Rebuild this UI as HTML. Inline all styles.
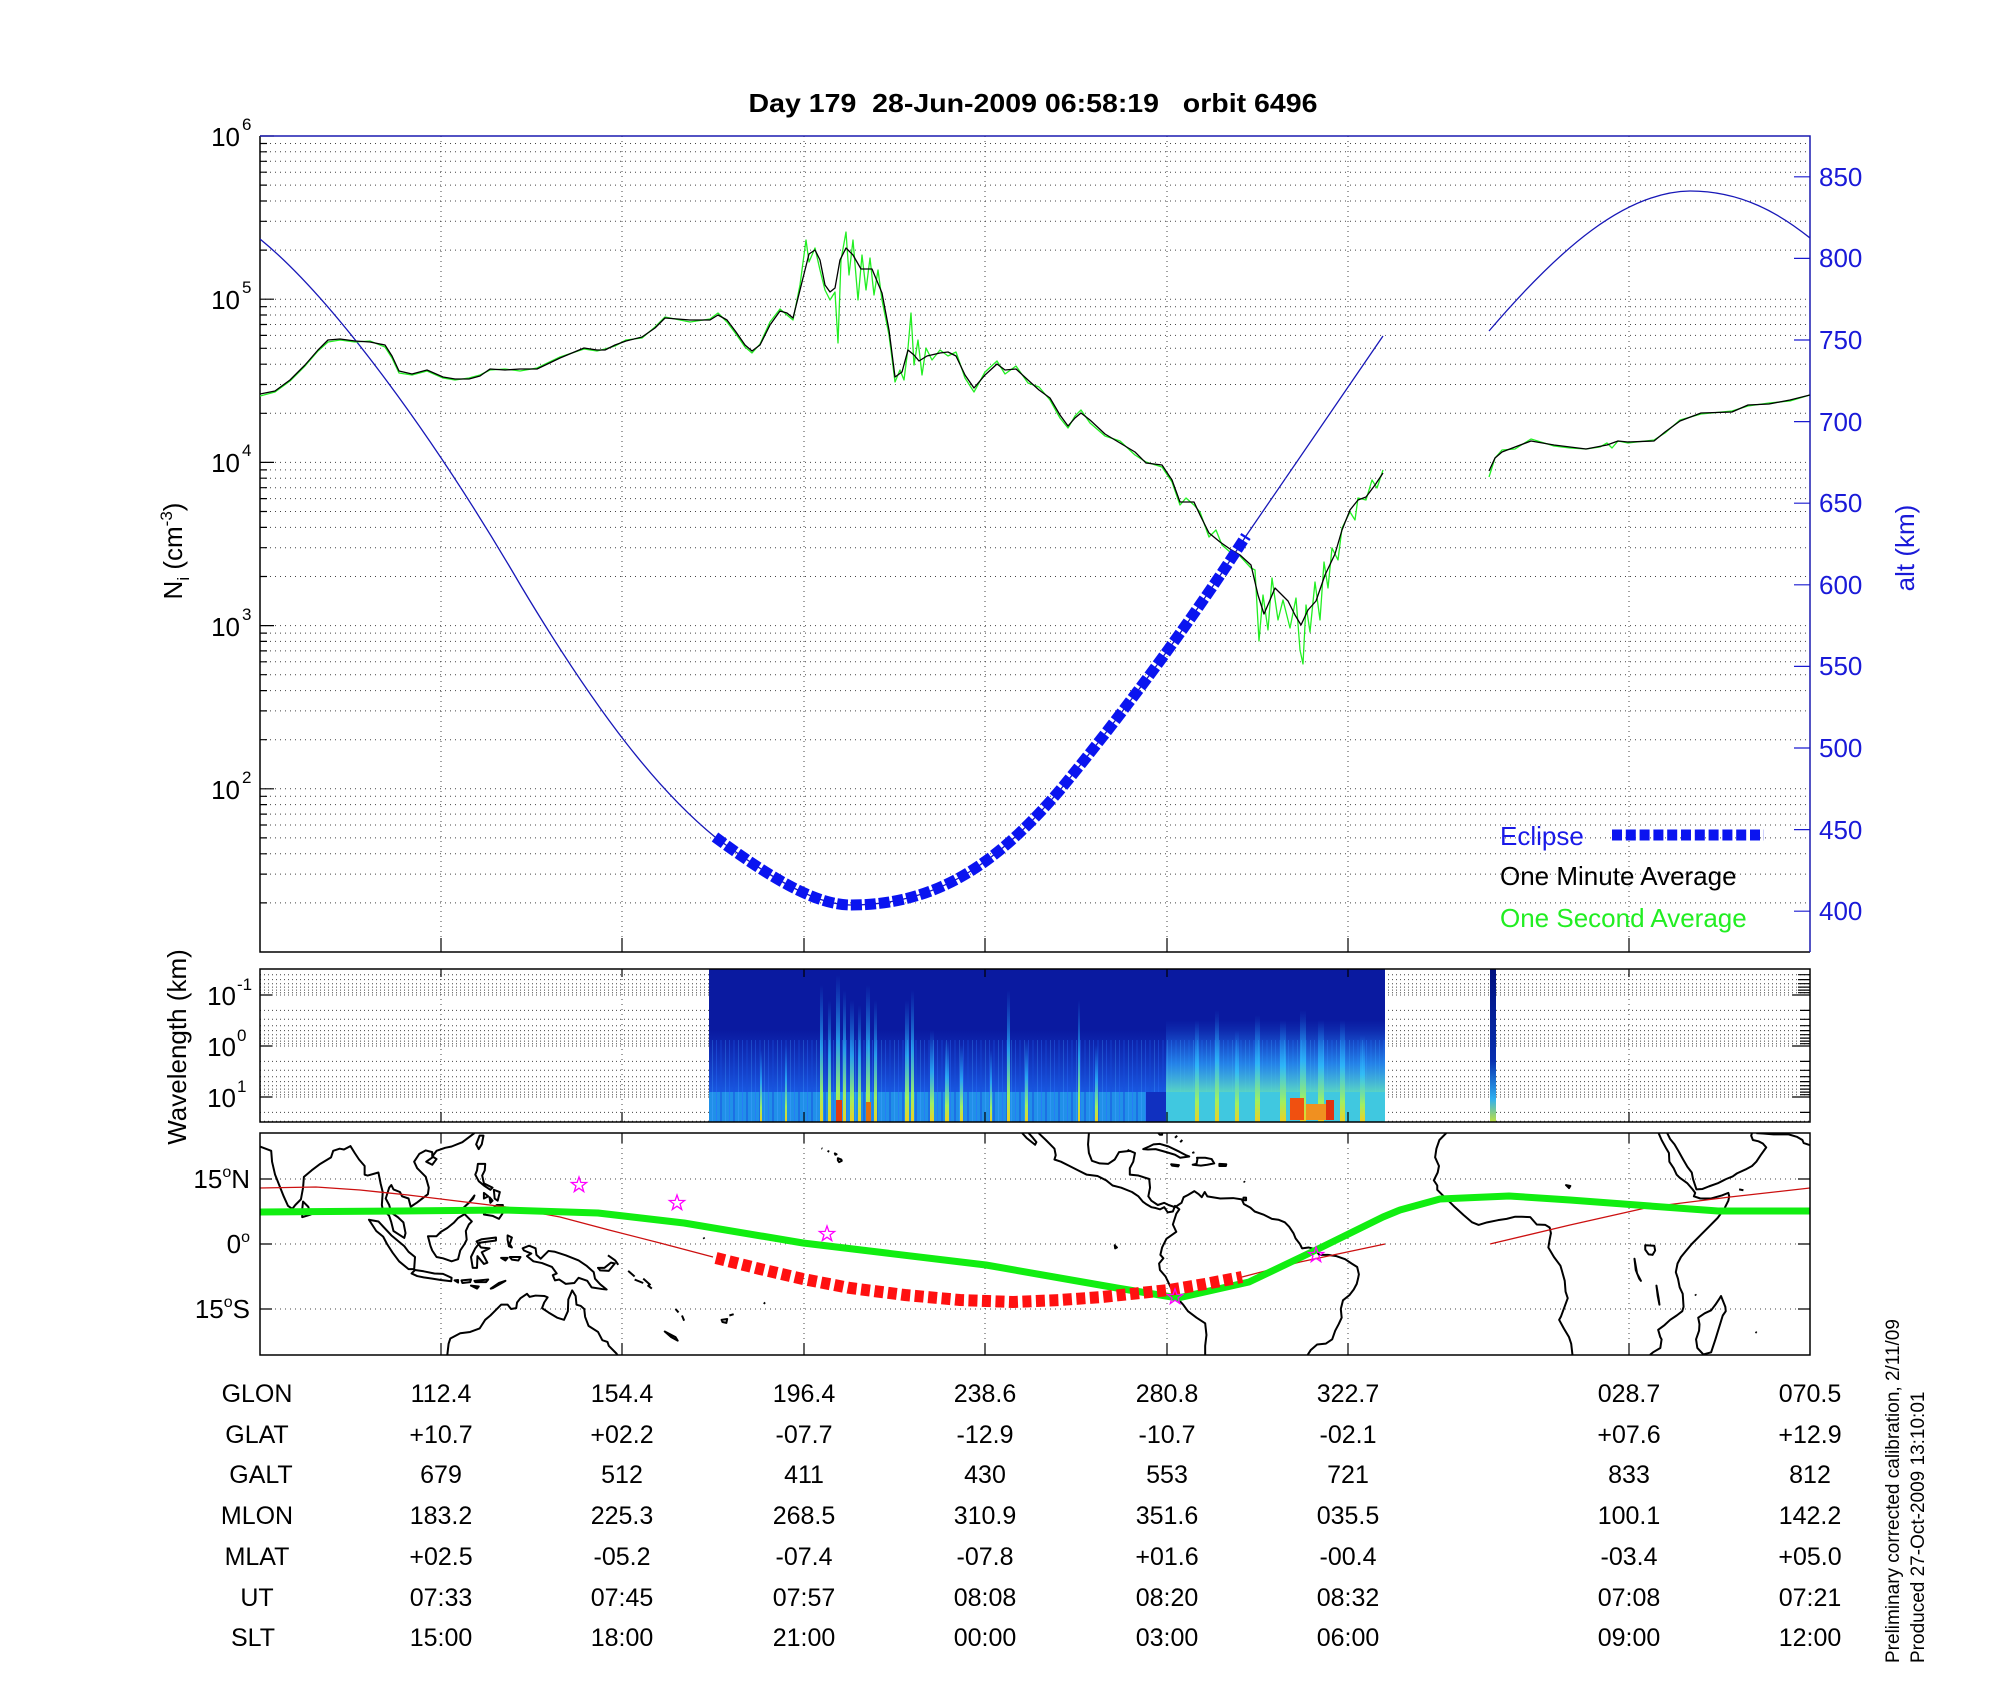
<!DOCTYPE html>
<html><head><meta charset="utf-8"><style>
html,body{margin:0;padding:0;background:#fff;}
svg{display:block;font-family:"Liberation Sans",Arial,sans-serif;}
</style></head><body>
<svg width="2000" height="1700" viewBox="0 0 2000 1700" xmlns="http://www.w3.org/2000/svg">
<defs>
<clipPath id="cTop"><rect x="260" y="136" width="1550" height="816"/></clipPath>
<clipPath id="cSp"><rect x="260" y="969" width="1550" height="153"/></clipPath>
<clipPath id="cMap"><rect x="260" y="1133" width="1550" height="222"/></clipPath>
<linearGradient id="gLow" x1="0" y1="0" x2="0" y2="1">
<stop offset="0" stop-color="#1a50e0" stop-opacity="0"/><stop offset="1" stop-color="#1a60e8" stop-opacity="0.9"/></linearGradient>
<linearGradient id="gSt" x1="0" y1="0" x2="0" y2="1">
<stop offset="0" stop-color="#20a0ff" stop-opacity="0"/><stop offset="0.45" stop-color="#30c8ff" stop-opacity="0.7"/><stop offset="0.8" stop-color="#a0f060"/><stop offset="1" stop-color="#f0d020"/></linearGradient>
<linearGradient id="gBr" x1="0" y1="0" x2="0" y2="1">
<stop offset="0" stop-color="#2080ff" stop-opacity="0"/><stop offset="0.6" stop-color="#30b0ff" stop-opacity="0.6"/><stop offset="1" stop-color="#60e0c0" stop-opacity="0.9"/></linearGradient>
<linearGradient id="gBar" x1="0" y1="0" x2="0" y2="1">
<stop offset="0" stop-color="#001080"/><stop offset="0.6" stop-color="#0830b0"/><stop offset="0.85" stop-color="#30b0f0"/><stop offset="1" stop-color="#c0e040"/></linearGradient>
<pattern id="pStreak" x="0" y="0" width="13" height="153" patternUnits="userSpaceOnUse">
<rect x="1" y="0" width="1" height="153" fill="#2a70ff" opacity="0.6"/><rect x="5" y="0" width="2" height="153" fill="#1850e0" opacity="0.5"/><rect x="10" y="0" width="1" height="153" fill="#40a0ff" opacity="0.5"/>
</pattern>
<polygon id="star" points="0,-8 1.88,-2.59 7.61,-2.47 3.04,0.99 4.7,6.47 0,3.2 -4.7,6.47 -3.04,0.99 -7.61,-2.47 -1.88,-2.59" fill="none" stroke="#ff00ff" stroke-width="1.3"/>
</defs>

<text x="1033" y="112" font-size="26" font-weight="bold" text-anchor="middle" textLength="569" lengthAdjust="spacingAndGlyphs" xml:space="preserve">Day 179  28-Jun-2009 06:58:19   orbit 6496</text>

<g stroke="#444" stroke-width="1" stroke-dasharray="1 4" fill="none">
<path d="M260,902.9H1810M260,874.1H1810M260,853.8H1810M260,837.9H1810M260,825H1810M260,814.1H1810M260,804.6H1810M260,796.3H1810M260,788.8H1810
M260,739.7H1810M260,710.9H1810M260,690.6H1810M260,674.7H1810M260,661.8H1810M260,650.9H1810M260,641.4H1810M260,633.1H1810M260,625.6H1810
M260,576.5H1810M260,547.7H1810M260,527.4H1810M260,511.5H1810M260,498.6H1810M260,487.7H1810M260,478.2H1810M260,469.9H1810M260,462.4H1810
M260,413.3H1810M260,384.5H1810M260,364.2H1810M260,348.3H1810M260,335.4H1810M260,324.5H1810M260,315H1810M260,306.7H1810M260,299.2H1810
M260,250.1H1810M260,221.3H1810M260,201H1810M260,185.1H1810M260,172.2H1810M260,161.3H1810M260,151.8H1810M260,143.5H1810"/>
<path d="M441,136V952M622,136V952M804,136V952M985,136V952M1167,136V952M1348,136V952M1629,136V952"/>
</g>
<g stroke="#000" stroke-width="1.2">
<path d="M260,788.8h14M260,625.6h14M260,462.4h14M260,299.2h14M260,136h14
M260,902.9h7M260,874.1h7M260,853.8h7M260,837.9h7M260,825h7M260,814.1h7M260,804.6h7M260,796.3h7
M260,739.7h7M260,710.9h7M260,690.6h7M260,674.7h7M260,661.8h7M260,650.9h7M260,641.4h7M260,633.1h7
M260,576.5h7M260,547.7h7M260,527.4h7M260,511.5h7M260,498.6h7M260,487.7h7M260,478.2h7M260,469.9h7
M260,413.3h7M260,384.5h7M260,364.2h7M260,348.3h7M260,335.4h7M260,324.5h7M260,315h7M260,306.7h7
M260,250.1h7M260,221.3h7M260,201h7M260,185.1h7M260,172.2h7M260,161.3h7M260,151.8h7M260,143.5h7
M441,952v-14M622,952v-14M804,952v-14M985,952v-14M1167,952v-14M1348,952v-14M1629,952v-14"/>
</g>
<g stroke="#1a1ad0" stroke-width="1.2">
<path d="M1810,911.2h-16M1810,829.6h-16M1810,748h-16M1810,666.4h-16M1810,584.8h-16M1810,503.2h-16M1810,421.6h-16M1810,340h-16M1810,258.4h-16M1810,176.8h-16"/>
</g>
<path d="M260,136V952H1810" stroke="#000" stroke-width="1.5" fill="none"/>
<path d="M260,136H1810V952" stroke="#1a1ab0" stroke-width="1.5" fill="none"/>

<g font-size="26" fill="#000" text-anchor="end">
<text x="240" y="146">10</text><text x="240" y="309">10</text><text x="240" y="472">10</text><text x="240" y="636">10</text><text x="240" y="799">10</text>
</g>
<g font-size="17" fill="#000">
<text x="242" y="130">6</text><text x="242" y="293">5</text><text x="242" y="456">4</text><text x="242" y="620">3</text><text x="242" y="783">2</text>
</g>
<text transform="translate(182,551) rotate(-90)" font-size="26" text-anchor="middle">N<tspan font-size="17" dy="7">i</tspan><tspan dy="-7"> (cm</tspan><tspan font-size="17" dy="-10">-3</tspan><tspan dy="10">)</tspan></text>
<g font-size="26" fill="#1a1ad8">
<text x="1819" y="920">400</text><text x="1819" y="839">450</text><text x="1819" y="757">500</text><text x="1819" y="675">550</text><text x="1819" y="594">600</text><text x="1819" y="512">650</text><text x="1819" y="431">700</text><text x="1819" y="349">750</text><text x="1819" y="267">800</text><text x="1819" y="186">850</text>
</g>
<text transform="translate(1914,548) rotate(-90)" font-size="26" fill="#1a1ad8" text-anchor="middle">alt (km)</text>

<g clip-path="url(#cTop)" fill="none" stroke-linejoin="round">
<path stroke="#1818b8" stroke-width="1.3" d="M260,239 C330,296 430,430 521,586 C600,718 660,792 715,837 C780,885 820,905 851,905 C940,905 1000,860 1060,790 C1130,705 1200,608 1246,536 L1383,336"/>
<path stroke="#1818b8" stroke-width="1.3" d="M1489,331 C1560,248 1625,192 1690,191 C1742,191 1780,214 1810,238"/>
<polyline stroke="#22ee22" stroke-width="1.3" points="260,396 275,392 290,381 305,366 318,351 328,342 340,340 355,342 370,341 385,347 392,358 399,373 412,375 427,371 443,378 455,380 469,378 480,375 490,370 505,369 520,371 537,368 560,357 584,349 597,351 605,349 615,346 626,340 642,338 655,327 665,317 690,322 710,319 718,313 727,322 736,334 745,347 752,353 760,344 770,322 780,309 787,315 793,320 800,285 806,240 809,262 815,248 820,270 825,290 830,300 835,292 838,343 841,260 846,232 849,275 853,240 858,300 862,255 866,290 870,258 874,295 878,270 882,300 889,335 895,382 900,370 904,380 908,348 911,313 914,365 918,340 922,375 926,348 932,360 940,350 948,356 956,352 965,378 974,392 985,372 997,361 1005,374 1016,366 1028,383 1039,387 1050,400 1060,418 1068,428 1075,416 1081,410 1090,423 1105,436 1120,441 1135,455 1146,462 1162,467 1172,482 1180,505 1186,498 1194,505 1200,512 1209,537 1216,530 1222,545 1230,552 1240,556 1251,568 1255,570 1259,641 1263,595 1268,630 1272,578 1278,620 1283,600 1290,628 1296,598 1300,650 1303,664 1306,605 1310,632 1315,582 1320,620 1324,562 1328,588 1332,548 1338,560 1342,528 1350,512 1355,520 1358,498 1366,500 1372,480 1377,488 1383,470"/>
<polyline stroke="#22ee22" stroke-width="1.3" points="1489,477 1495,458 1502,450 1515,449 1531,439 1554,446 1570,448 1586,449 1600,447 1607,443 1612,448 1618,441 1628,443 1654,440 1665,433 1680,420 1701,414 1732,411 1748,406 1769,403 1790,401 1810,395"/>
<polyline stroke="#000" stroke-width="1.3" points="260,394 275,391 290,380 305,365 318,350 328,340 340,339 355,341 370,342 385,345 392,356 399,371 412,374 427,370 443,377 455,379 469,379 480,376 490,369 505,370 520,369 537,369 560,358 584,348 597,350 605,350 615,345 626,341 642,337 655,328 665,318 690,320 710,320 718,315 727,320 736,332 745,345 752,351 760,345 770,325 780,311 787,313 793,318 800,290 809,254 815,250 820,260 825,285 830,292 835,288 840,260 846,248 853,255 861,269 872,269 882,293 889,330 895,377 902,372 908,350 914,355 919,361 927,356 940,353 948,352 956,356 965,375 974,388 985,375 997,364 1005,370 1016,369 1028,380 1039,390 1050,398 1060,415 1068,426 1075,418 1081,413 1090,420 1105,434 1120,443 1135,452 1146,463 1162,465 1172,480 1180,502 1194,502 1200,515 1209,533 1220,542 1230,549 1240,555 1251,565 1258,595 1264,614 1270,600 1275,588 1282,595 1288,601 1295,615 1301,625 1308,610 1316,601 1325,575 1335,554 1342,530 1350,510 1358,500 1366,497 1375,485 1383,473"/>
<polyline stroke="#000" stroke-width="1.3" points="1489,471 1495,458 1502,452 1515,447 1531,441 1554,445 1586,449 1607,445 1618,441 1628,442 1654,441 1665,432 1680,421 1701,413 1732,412 1748,405 1769,404 1790,400 1810,395"/>
<path stroke="#0a14f0" stroke-width="11" stroke-dasharray="11 3" d="M715,837 C780,885 820,905 851,905 C940,905 1000,860 1060,790 C1130,705 1200,608 1246,536"/>
</g>
<text x="1500" y="845" font-size="26" fill="#1a1ae8">Eclipse</text>
<path d="M1612,835H1764" stroke="#0a14f0" stroke-width="11" stroke-dasharray="10 3.8"/>
<text x="1500" y="885" font-size="26" fill="#000">One Minute Average</text>
<text x="1500" y="927" font-size="26" fill="#22ee22">One Second Average</text>

<g stroke="#444" stroke-width="1" stroke-dasharray="1 3" fill="none">
<path d="M260,974.7H1810M260,979.6H1810M260,983.7H1810M260,987.1H1810M260,990.1H1810M260,992.7H1810M260,995H1810
M260,1010.4H1810M260,1019.3H1810M260,1025.7H1810M260,1030.6H1810M260,1034.7H1810M260,1038.1H1810M260,1041.1H1810M260,1043.7H1810M260,1046H1810
M260,1061.4H1810M260,1070.3H1810M260,1076.7H1810M260,1081.6H1810M260,1085.7H1810M260,1089.1H1810M260,1092.1H1810M260,1094.7H1810M260,1097H1810
M260,1112.4H1810M260,1121.3H1810"/>
<path d="M441,969V1122M622,969V1122M804,969V1122M985,969V1122M1167,969V1122M1348,969V1122M1629,969V1122" stroke-dasharray="1 4"/>
</g>
<g clip-path="url(#cSp)">
<rect x="709" y="969" width="676" height="153" fill="#0a1aa0"/>
<rect x="709" y="1030" width="676" height="62" fill="url(#gLow)"/>
<rect x="709" y="1040" width="676" height="82" fill="url(#pStreak)" opacity="0.6"/>
<rect x="709" y="1092" width="437" height="30" fill="#2090e8"/>
<rect x="709" y="1092" width="437" height="30" fill="url(#pStreak)"/>
<rect x="1146" y="1092" width="20" height="30" fill="#1030c0"/>
<rect x="1166" y="1092" width="219" height="30" fill="#40c8e0"/>
<rect x="1166" y="1020" width="219" height="72" fill="url(#gBr)"/>
<g fill="url(#gSt)">
<rect x="820" y="985" width="3" height="137"/><rect x="828" y="1000" width="3" height="122"/><rect x="836" y="975" width="4" height="147"/>
<rect x="843" y="990" width="3" height="132"/><rect x="850" y="1000" width="4" height="122"/><rect x="858" y="1005" width="3" height="117"/>
<rect x="866" y="985" width="4" height="137"/><rect x="874" y="1000" width="3" height="122"/><rect x="905" y="1000" width="4" height="122"/>
<rect x="911" y="990" width="3" height="132"/><rect x="930" y="1030" width="4" height="92"/><rect x="945" y="1040" width="4" height="82"/>
<rect x="960" y="1045" width="3" height="77"/><rect x="1007" y="990" width="3" height="132"/><rect x="1025" y="1040" width="3" height="82"/>
<rect x="1078" y="1000" width="2" height="122"/><rect x="1095" y="1045" width="3" height="77"/>
<rect x="760" y="1050" width="2" height="72"/><rect x="785" y="1045" width="2" height="77"/><rect x="990" y="1050" width="2" height="72"/>
<rect x="1195" y="1020" width="4" height="102"/><rect x="1215" y="1010" width="4" height="112"/><rect x="1235" y="1030" width="4" height="92"/>
<rect x="1255" y="1015" width="5" height="107"/><rect x="1280" y="1020" width="6" height="102"/><rect x="1300" y="1010" width="6" height="112"/>
<rect x="1318" y="1020" width="6" height="102"/><rect x="1340" y="1020" width="5" height="102"/><rect x="1360" y="1035" width="5" height="87"/>
</g>
<rect x="836" y="1100" width="6" height="22" fill="#e03a10"/><rect x="866" y="1102" width="5" height="20" fill="#e07010"/>
<rect x="1290" y="1098" width="14" height="22" fill="#f05010"/><rect x="1306" y="1104" width="20" height="16" fill="#f09020"/><rect x="1326" y="1100" width="8" height="20" fill="#e03010"/>
<rect x="1490" y="969" width="6" height="153" fill="url(#gBar)"/>
</g>
<g stroke="#000" stroke-width="1.2">
<path d="M260,995h12M260,1046h12M260,1097h12M441,1122v-10M622,1122v-10M804,1122v-10M985,1122v-10M1167,1122v-10M1348,1122v-10M1629,1122v-10M441,969v8M622,969v8M804,969v8M985,969v8M1167,969v8M1348,969v8M1629,969v8
M1810,974.7h-12M1810,979.6h-12M1810,983.7h-12M1810,987.1h-12M1810,990.1h-12M1810,992.7h-12M1810,995h-18M1810,1010.4h-10M1810,1019.3h-10M1810,1025.7h-10M1810,1030.6h-10M1810,1034.7h-10M1810,1038.1h-10M1810,1041.1h-10M1810,1043.7h-10M1810,1046h-18M1810,1061.4h-10M1810,1070.3h-10M1810,1076.7h-10M1810,1081.6h-10M1810,1085.7h-10M1810,1089.1h-10M1810,1092.1h-10M1810,1094.7h-10M1810,1097h-18M1810,1112.4h-10"/>
</g>
<rect x="260" y="969" width="1550" height="153" fill="none" stroke="#000" stroke-width="1.5"/>
<g font-size="26" text-anchor="end"><text x="236" y="1005">10</text><text x="236" y="1056">10</text><text x="236" y="1107">10</text></g>
<g font-size="17"><text x="237" y="990">-1</text><text x="237" y="1041">0</text><text x="237" y="1092">1</text></g>
<text transform="translate(186,1047) rotate(-90)" font-size="26" text-anchor="middle">Wavelength (km)</text>

<g stroke="#444" stroke-width="1" stroke-dasharray="1 4" fill="none">
<path d="M260,1179H1810M260,1244H1810M260,1309H1810M441,1133V1355M622,1133V1355M804,1133V1355M985,1133V1355M1167,1133V1355M1348,1133V1355M1629,1133V1355"/>
</g>
<g clip-path="url(#cMap)">
<g transform="matrix(4.306 0 0 -4.333 -41.42 1244)" fill="none" stroke="#000" stroke-width="2" stroke-linejoin="round">
<path vector-effect="non-scaling-stroke" d="M70,22.5 L72.6,21.5 L72.8,19 L73.5,16 L74.5,13.5 L75.5,11 L76.5,8.8 L77.5,8.1 L78.2,9 L79.5,10.3 L80,13 L80.2,15.5 L82,17 L84,18.5 L86.5,20 L87,21.5 L88.5,22 L89.5,21.8 L91,22.6 L92,21 L93,19.5 L94.3,18 L94.3,16 L95,15.8 L97.5,16.5 L98,14 L98.5,12 L98.3,9 L98.5,8 L100,6.5 L100.5,5 L101,3 L103.5,1.4 L103.8,2.5 L103.3,5 L102,6.2 L100.5,7.2 L100,9 L99.2,10.5 L100,13 L100.5,13.6 L101,12.6 L102.5,12 L103,11 L104.5,10.5 L105,8.6 L106.5,9.6 L109,11.5 L109.2,13 L108.5,15.5 L106.5,17.5 L105.8,19 L107,20.8 L108.5,21.6 L110,21.2 L110,20.2 L111,21.5 L113,22.2 L114.5,22.5 L117,23.5 L119,25 L119.8,25.6"/>
<path vector-effect="non-scaling-stroke" d="M108.6,19 L110,18.3 L111,19.6 L110.2,20.1 Z M79.8,6.2 L81.8,6.8 L81.2,8.6 L80,9.8 L79.8,8 Z"/>
<path vector-effect="non-scaling-stroke" d="M95.3,5.6 L97.5,5.2 L100.5,2 L103.5,-0.5 L104.5,-1.8 L106,-3 L105.8,-5.8 L104.5,-5.8 L102.3,-4 L100.8,-2 L99.5,0 L98.6,1.7 L97,3 Z"/>
<path vector-effect="non-scaling-stroke" d="M105.2,-6.8 L106,-6 L108,-6.3 L110.5,-6.8 L112.5,-6.9 L114.5,-7.8 L114.4,-8.6 L112,-8.3 L110,-8 L108,-7.7 L106.5,-7.4 Z M115.2,-8.4 L116,-8.3 L116,-8.9 Z M116.8,-8.4 L119,-8.2 L118.8,-8.8 L117,-9 Z M119.8,-8.5 L123,-8.2 L122.5,-8.8 L120,-8.8 Z M124,-10.2 L127,-8.5 L125.5,-9 L123.6,-10.3 Z M119,-9.6 L120.8,-9.8 L120.4,-10.3 Z"/>
<path vector-effect="non-scaling-stroke" d="M109,1.8 L109.6,-0.5 L110,-1.5 L111,-3 L112.5,-3.3 L114.5,-4 L116,-3.5 L116.5,-1.5 L117.5,0 L118,1 L117.8,3 L118.5,4.5 L119.2,5.2 L117.5,6.9 L116,6 L115,4.9 L113.5,3.7 L112,2.8 L111,1.8 Z"/>
<path vector-effect="non-scaling-stroke" d="M119.4,-5.5 L120.4,-5.5 L120.5,-2.8 L122,-4.6 L122.8,-4.3 L121.5,-1.9 L123.3,-1 L121.3,-0.8 L120.3,0.6 L121.5,1.1 L124.8,1.5 L124.8,0.8 L121,0.3 L120,-1 L119,-3 Z M127.5,2 L128.5,1.5 L128,0 L128.5,-0.8 L127.8,-0.5 L127.5,1 Z M126,-3.2 L127.5,-3.2 L127,-3.8 Z M128,-3 L130.5,-3 L130,-3.8 L128.5,-3.6 Z"/>
<path vector-effect="non-scaling-stroke" d="M120.6,18.5 L122.3,18.5 L122.2,17 L121.6,15.8 L122,14 L124,13 L123.5,12.5 L122,13.5 L120.8,14.5 L120,16 L120.4,17 Z M122,7 L123.5,7.8 L125,9 L126.4,9 L126.3,7 L125.5,5.8 L124,6.5 L122,6.8 Z M124.3,12.5 L125.7,12 L125.2,10 L124.5,10.5 Z M122,11.8 L123,11 L122,10.5 Z M117.2,8.3 L119.5,10.5 L119.8,11.2 L118.5,9.5 Z M123.3,10.8 L124,10 L123.5,9.5 Z M120.2,23 L121,25 L121.9,25 L121.5,23 L120.8,21.9 Z"/>
<path vector-effect="non-scaling-stroke" d="M131,-1 L132.5,-0.4 L134,-1 L134.2,-2.5 L135.2,-3.4 L137,-1.6 L138.5,-1.8 L141,-2.6 L144,-3.8 L145.8,-5 L147.5,-6.5 L147.8,-8 L149,-9.3 L150.5,-10.5 L149.5,-10.4 L147,-10 L146,-8.5 L144,-7.8 L143,-9 L141,-9.2 L139.5,-8.2 L138.5,-8.4 L138,-7.2 L138.9,-6.8 L137.8,-5.3 L135.5,-4.4 L133.5,-4 L132,-2.8 L133,-2.2 L131.3,-1.5 Z M148.5,-5.5 L150,-5.5 L151.5,-4.3 L152.4,-4.5 L151,-6.2 L149,-6.1 Z M150.8,-2.6 L152.5,-3.8 L153.2,-4.8 M155.5,-6.2 L157,-7.5 M159,-8 L160.7,-9.5 M160,-9.5 L161,-10.3 M157,-8.2 L159,-9 M166.5,-15 L167.2,-15.8 M168,-16.5 L168.5,-17.7 M164,-20.2 L166.5,-21.5 L167,-22.3 L165.5,-21.5 Z M177.2,-17.5 L178.5,-17.3 L178.3,-18.2 L177.4,-18 Z M179,-16.5 L180,-16.2"/>
<path vector-effect="non-scaling-stroke" d="M113.5,-25.6 L113.8,-23 L114.2,-21.8 L116.5,-20.6 L118.8,-20.3 L121,-19.5 L122.3,-17.5 L123.5,-16.5 L124.5,-15.5 L126,-14 L127.5,-14 L128.3,-15 L129.5,-14.8 L129.7,-13.5 L130.5,-12.5 L132,-11.5 L132.6,-12.2 L134,-11.9 L136,-12 L136.8,-12.3 L136,-13.5 L135.5,-14.8 L137,-15.8 L139,-17 L140.6,-17.5 L141.5,-15.5 L141.6,-12.8 L142.5,-10.7 L143.3,-12 L143.5,-14 L144.5,-14.3 L145.3,-15 L145.5,-16.8 L146.3,-18.9 L148.5,-20.3 L149.5,-22.2 L150.7,-22.6 L151,-23.5 L152.8,-25.3 L153,-25.6"/>
<path vector-effect="non-scaling-stroke" d="M204.2,19.8 L205,19.5 L205.1,19.2 L204.5,18.9 L204.2,19.3 Z M203.5,20.9 L203.9,20.7 L203.6,20.6 Z M201.8,21.5 L202.2,21.3 M200.4,22.1 L200.6,22.0 M268.5,-0.3 L269,-0.8 L268.6,-1 Z M187,-13.5 L187.3,-13.8 M173,1.5 L173.2,1.2"/>
<path vector-effect="non-scaling-stroke" d="M247,25.6 L248,24.5 L250,22.9 L250.3,23.5 L249.5,24.5 L248.5,25.6 M250.8,25.6 L252.5,24 L254.5,22 L254.8,20.5 L254.5,19.5 L256,19 L258,18 L260,17 L262,16 L264.5,15.7 L266.5,14.7 L268,13.5 L270,13 L272.5,12 L274,11 L275,9.8 L275.8,9.2 L277,8.5 L278,8.3 L279,8 L280,8.5 L280.8,7.3 L282,7.5 L282.5,8.8 L283.5,8 L282.8,7 L282,4.5 L282.8,2.8 L280.5,1.2 L279.5,-0.8 L279.1,-2.5 L279.8,-3.3 L278.8,-4.5 L279,-6 L280.3,-7.5 L281.5,-10 L283,-12.5 L284.4,-14 L285.5,-15.5 L287.5,-17 L289.5,-18.3 L289.8,-21 L289.5,-23.5 L289.5,-25.6"/>
<path vector-effect="non-scaling-stroke" d="M262.5,25.6 L262.3,23 L262.5,21 L263.2,19.2 L265,18.6 L267,18.5 L268.5,19.5 L269.5,21.2 L272,21.5 L273.2,21 L272.8,19 L272,17.5 L272,16 L274,15.8 L276.5,15 L276.7,13 L276.3,11 L277,10 L278.5,9 L280,9.5 L281,9 L282.5,8.5 L284,9.5 L284.5,10.8 L285.5,11.3 L287,12.2 L288,11.5 L288.7,10.8 L289.4,12 L290,11 L293,10.5 L296,10.6 L298,10.3 L298.5,9.2 L300,8.4 L301,7.5 L303,6.8 L305,5.8 L306.5,5.6 L308,5 L309,4 L310,2.5 L310.5,1.3 L311.5,0 L312,-1 L313.5,-0.8 L315,-1.2 L316,-2.5 L318,-2.5 L320,-2.8 L322,-3.5 L323.5,-4.5 L324.8,-5.3 L325.2,-7 L325,-8 L324.7,-9.2 L324,-10.5 L323,-11.8 L321.5,-13 L321,-15 L321.2,-17 L320.5,-18.5 L319.7,-20 L319,-22 L317.5,-23 L315.5,-23.2 L314,-24.5 L313.3,-25.6"/>
<path vector-effect="non-scaling-stroke" d="M279.5,25.6 L279.5,25.2 L279,25.2 L278.6,25.6 M275.1,21.9 L276.5,22.5 L277.5,23 L279,23.1 L281,22.5 L283.5,21.3 L285,20.5 L285.8,20.2 L283.7,19.9 L282.5,20.6 L280.5,21.2 L278,21.9 L276.2,21.8 Z M287.6,19.9 L289.5,19.9 L291,19.6 L291.6,18.6 L290,18.3 L288.5,18.1 L286.6,18.3 L287.5,18.5 L287.7,19.6 Z M281.6,18.4 L283.4,18.2 L283.2,17.9 L281.8,18.1 Z M292.8,18.5 L294.4,18.4 L294.3,18 L292.8,18 Z M282.5,24.5 L283,25 M283.7,23.5 L284.2,24 M286.5,21 L287,21.2 M298.5,14.5 L298.7,14.2 M298.4,10.7 L299,10.7 L299,10.1 L298.4,10.1 Z M271.5,21.8 L271.8,21.5"/>
<path vector-effect="non-scaling-stroke" d="M345.5,25.6 L343.9,24 L343.2,22 L342.9,20 L343.8,18 L343.5,16.5 L342.6,14.7 L343.4,13.5 L343.4,12.5 L344.5,11.4 L346,10 L347.5,8.5 L349.5,6.7 L351.5,5 L353,4.4 L355,5 L357.5,5.5 L359.5,5.8 L361.5,6.3 L363,6.3 L365,6.2 L366.5,4.5 L368.5,4.4 L369.5,3.8 L369.8,2.5 L369.5,1 L369.2,-0.8 L370.5,-3 L372,-5 L372.3,-6 L373,-8.5 L373.2,-11 L373.7,-12.5 L372.1,-16.8 L371.7,-17.5 L372.8,-19.5 L374,-21.5 L374.5,-23 L374.8,-25.6"/>
<path vector-effect="non-scaling-stroke" d="M394.8,25.6 L395.5,24 L396.6,22 L397.2,21 L397.3,19 L398.3,17.5 L399,16 L399.7,15.3 L401.5,14 L402.7,12.6 L403.3,11.8 L403,11 L404.5,10.5 L407,10.5 L409.5,11.2 L411,11.8 L411.2,11 L411,10 L410,8 L408.5,6 L406.5,4 L404.5,2 L402.5,0 L401,-1.8 L400,-3 L399.2,-4.5 L398.8,-6.5 L399.3,-8 L399.7,-10 L400.4,-11.5 L400.6,-14.5 L400.3,-15.5 L399,-16.5 L397.5,-17.5 L396.2,-18.7 L394.7,-19.8 L395.2,-21.5 L395.5,-22 L395.2,-24 L393.5,-25 L392.8,-25.6"/>
<path vector-effect="non-scaling-stroke" d="M396.8,25.6 L397.5,24.2 L398.5,23 L399.5,21.3 L400.5,19.5 L401.5,17.8 L402.5,16.5 L402.8,15 L403.3,13.5 L403.6,12.6 L405,12.7 L406.5,13.3 L408.5,14 L409.5,14.5 L410.5,15 L412,15.6 L413,16.3 L415,17.2 L416.5,18 L417.5,19 L418.5,20.5 L419.8,22.3 L419,23.2 L418,23.7 L416.7,24 L416.3,25 L416.5,25.6 M417.5,25.6 L419,25.5 L421.5,25.3 L425,25.3 L427,24.7 L428.2,24 L428.5,23.3 L430,22.8"/>
<path vector-effect="non-scaling-stroke" d="M409.3,-12 L410.3,-14.5 L410.4,-15.5 L409.7,-16.5 L409.3,-17.8 L408,-22 L407,-25 L405.2,-25.5 L403.8,-24 L403.5,-22 L404.2,-20 L404.3,-18.5 L404,-17 L405.5,-16 L407,-15.3 L408,-14 L409,-12.5 Z M391.7,-0.3 L393.8,-0.4 L394,-1.5 L393.4,-2.5 L392.5,-2.4 L391.7,-1.3 Z M389.2,-3.4 L389.5,-6 L390.3,-8 L390.7,-8.5 L389.8,-6.8 Z M394.3,-9.6 L394.6,-12 L395,-14 L394.8,-12.5 Z M373.3,13.6 L374.3,13.4 L374,12.9 Z M413.5,12.6 L414.5,12.4 M403.3,-11.6 L403.5,-11.9 M417.3,-20.3 L417.6,-20.5"/>
</g>
<polyline fill="none" stroke="#cc1010" stroke-width="1.3" points="260,1188 316,1187 360,1190 408,1195 506,1207 560,1217 609,1230 660,1243 713,1257"/>
<polyline fill="none" stroke="#cc1010" stroke-width="1.3" points="1242,1277 1300,1262 1385,1244"/>
<polyline fill="none" stroke="#cc1010" stroke-width="1.3" points="1490,1244 1570,1225 1650,1207 1730,1197 1810,1188"/>
<polyline fill="none" stroke="#11ee11" stroke-width="7" stroke-linejoin="round" points="260,1212 400,1211 506,1210 598,1213 684,1223 803,1243 986,1265 1117,1288 1178,1298 1249,1282 1316,1250 1383,1217 1400,1210 1440,1199 1509,1196 1570,1200 1650,1206 1718,1211 1810,1211"/>
<polyline fill="none" stroke="#ff1010" stroke-width="12" stroke-dasharray="9 4.5" points="716,1258 760,1269 803,1279 850,1288 905,1295 960,1300 1013,1302 1060,1300 1102,1297 1140,1293 1169,1290 1205,1284 1242,1277"/>
<use href="#star" x="579" y="1185"/><use href="#star" x="677" y="1203"/><use href="#star" x="827" y="1234"/><use href="#star" x="1175" y="1297"/><use href="#star" x="1316" y="1255"/>
</g>
<g stroke="#000" stroke-width="1.2">
<path d="M441,1355v-12M622,1355v-12M804,1355v-12M985,1355v-12M1167,1355v-12M1348,1355v-12M1629,1355v-12M441,1133v10M622,1133v10M804,1133v10M985,1133v10M1167,1133v10M1348,1133v10M1629,1133v10M260,1179h12M260,1244h12M260,1309h12M1810,1179h-12M1810,1244h-12M1810,1309h-12"/>
</g>
<rect x="260" y="1133" width="1550" height="222" fill="none" stroke="#000" stroke-width="1.5"/>
<g font-size="26" text-anchor="end">
<text x="250" y="1188">15<tspan font-size="16" dy="-11">o</tspan><tspan dy="11">N</tspan></text>
<text x="250" y="1253">0<tspan font-size="16" dy="-11">o</tspan></text>
<text x="250" y="1318">15<tspan font-size="16" dy="-11">o</tspan><tspan dy="11">S</tspan></text>
</g>

<g font-size="25" text-anchor="middle">
<g><text x="257" y="1402">GLON</text><text x="441" y="1402">112.4</text><text x="622" y="1402">154.4</text><text x="804" y="1402">196.4</text><text x="985" y="1402">238.6</text><text x="1167" y="1402">280.8</text><text x="1348" y="1402">322.7</text><text x="1629" y="1402">028.7</text><text x="1810" y="1402">070.5</text></g>
<g><text x="257" y="1443">GLAT</text><text x="441" y="1443">+10.7</text><text x="622" y="1443">+02.2</text><text x="804" y="1443">-07.7</text><text x="985" y="1443">-12.9</text><text x="1167" y="1443">-10.7</text><text x="1348" y="1443">-02.1</text><text x="1629" y="1443">+07.6</text><text x="1810" y="1443">+12.9</text></g>
<g><text x="261" y="1483">GALT</text><text x="441" y="1483">679</text><text x="622" y="1483">512</text><text x="804" y="1483">411</text><text x="985" y="1483">430</text><text x="1167" y="1483">553</text><text x="1348" y="1483">721</text><text x="1629" y="1483">833</text><text x="1810" y="1483">812</text></g>
<g><text x="257" y="1524">MLON</text><text x="441" y="1524">183.2</text><text x="622" y="1524">225.3</text><text x="804" y="1524">268.5</text><text x="985" y="1524">310.9</text><text x="1167" y="1524">351.6</text><text x="1348" y="1524">035.5</text><text x="1629" y="1524">100.1</text><text x="1810" y="1524">142.2</text></g>
<g><text x="257" y="1565">MLAT</text><text x="441" y="1565">+02.5</text><text x="622" y="1565">-05.2</text><text x="804" y="1565">-07.4</text><text x="985" y="1565">-07.8</text><text x="1167" y="1565">+01.6</text><text x="1348" y="1565">-00.4</text><text x="1629" y="1565">-03.4</text><text x="1810" y="1565">+05.0</text></g>
<g><text x="257" y="1606">UT</text><text x="441" y="1606">07:33</text><text x="622" y="1606">07:45</text><text x="804" y="1606">07:57</text><text x="985" y="1606">08:08</text><text x="1167" y="1606">08:20</text><text x="1348" y="1606">08:32</text><text x="1629" y="1606">07:08</text><text x="1810" y="1606">07:21</text></g>
<g><text x="253" y="1646">SLT</text><text x="441" y="1646">15:00</text><text x="622" y="1646">18:00</text><text x="804" y="1646">21:00</text><text x="985" y="1646">00:00</text><text x="1167" y="1646">03:00</text><text x="1348" y="1646">06:00</text><text x="1629" y="1646">09:00</text><text x="1810" y="1646">12:00</text></g>
</g>
<text transform="translate(1899,1663) rotate(-90)" font-size="19">Preliminary corrected calibration, 2/11/09</text>
<text transform="translate(1924,1663) rotate(-90)" font-size="19">Produced 27-Oct-2009 13:10:01</text>
</svg>
</body></html>
